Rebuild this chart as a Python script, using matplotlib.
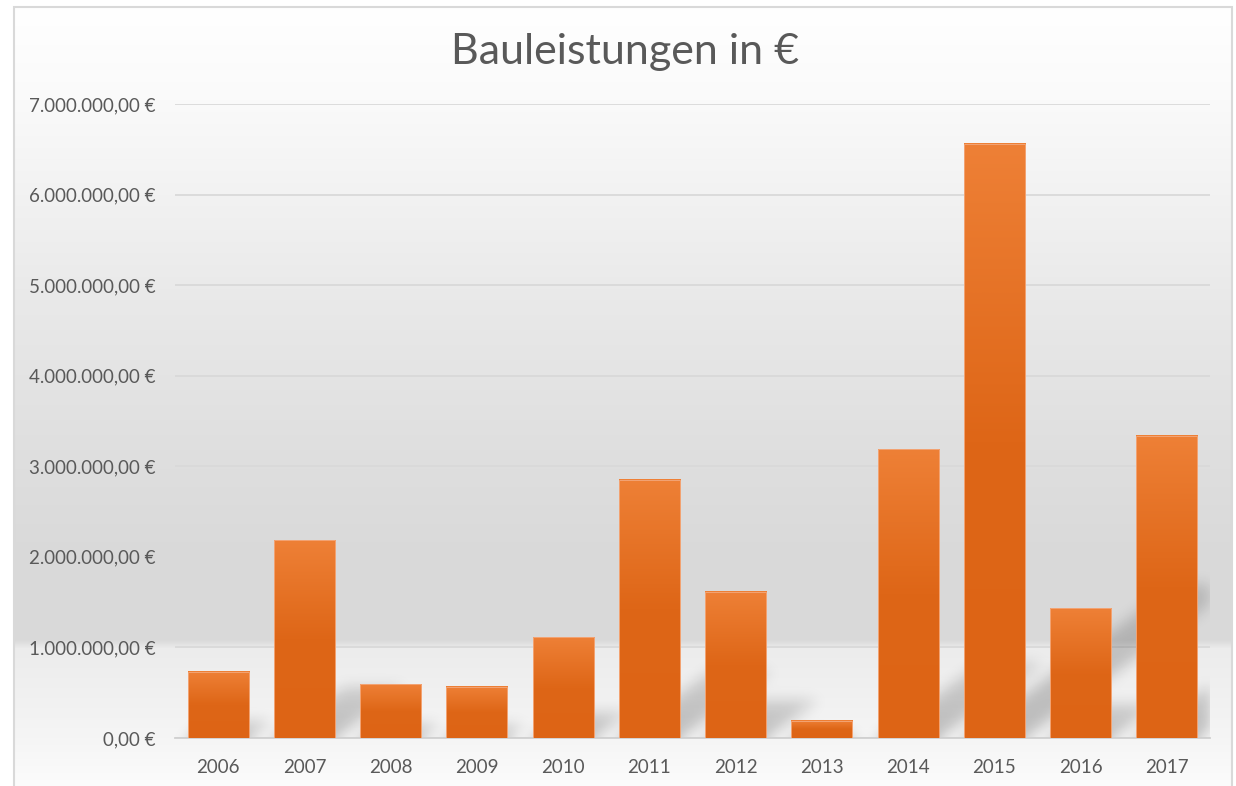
import numpy as np
import matplotlib.pyplot as plt
from matplotlib.ticker import FuncFormatter, MultipleLocator
from matplotlib.patches import Rectangle
from matplotlib.colors import LinearSegmentedColormap

# data
years = ['2006', '2007', '2008', '2009', '2010', '2011',
         '2012', '2013', '2014', '2015', '2016', '2017']
values = [730000, 2185000, 595000, 565000, 1115000, 2850000,
          1612000, 188000, 3190000, 6560000, 1435000, 3335000]

title = 'Bauleistungen in €'
text_col = '#595959'
plt.rcParams['font.family'] = ['Lato', 'DejaVu Sans']

W, H = 1236, 786
fig = plt.figure(figsize=(W / 100, H / 100), dpi=100)

# background gradient over the chart frame
fx0, fy0 = 14, 7
bg = fig.add_axes([fx0 / W, 0, (1232 - fx0) / W, 1 - fy0 / H], zorder=-5)
stops_px = [7, 100, 300, 450, 560, 640, 648, 738, 786]
stops_gray = [255, 250, 233, 223, 217, 218, 236, 245, 252]
rows = np.arange(fy0, H)
g = np.interp(rows, stops_px, stops_gray) / 255.0
bg_img = np.stack([g, g, g], axis=-1)[:, None, :].repeat(2, axis=1)
bg.imshow(bg_img, aspect='auto', extent=[0, 1, 0, 1], interpolation='bilinear')
bg.set_axis_off()
fig.patches.append(Rectangle((fx0 / W, -0.01), (1232 - fx0) / W, 1 - fy0 / H + 0.01,
                             transform=fig.transFigure, fill=False,
                             edgecolor='#d9d9d9', linewidth=1.5, zorder=10))

ax = fig.add_axes([175 / W, 1 - 738 / H, (1210 - 175) / W, (738 - 104) / H])
ax.patch.set_alpha(0)
x = np.arange(len(years))
bw = 0.71
ymax = 7000000

# blurred perspective shadows
nx, ny, pad = 1035, 634, 30
xs = -0.5 + (np.arange(nx) + 0.5) / nx * 12
ys = (np.arange(-pad, ny) + 0.5) / ny * ymax
XX, YY = np.meshgrid(xs, ys)
mask = np.zeros_like(XX)
for i, v in enumerate(values):
    hs = 0.26 * v
    shift = 0.378 * v / 1e6
    t = np.clip(YY / hs, 0, None)
    inside = (t <= 1) & (XX >= i - bw / 2 + shift * t) & (XX <= i + bw / 2 + shift * t)
    mask = np.maximum(mask, np.where(inside, 0.23 * (1 - 0.35 * t), 0))
k = np.exp(-0.5 * (np.arange(-21, 22) / 7.0) ** 2)
k /= k.sum()
mask = np.apply_along_axis(lambda r: np.convolve(r, k, mode='same'), 1, mask)
mask = np.apply_along_axis(lambda c: np.convolve(c, k, mode='same'), 0, mask)
mask = mask[pad:]
shadow = np.zeros((ny, nx, 4))
shadow[..., 3] = mask
ax.imshow(shadow, origin='lower', extent=[-0.5, 11.5, 0, ymax], aspect='auto',
          zorder=1, interpolation='bilinear')

# bars with vertical gradient
bar_cmap = LinearSegmentedColormap.from_list('o', ['#DD6415', '#DE6617', '#EE8036'])
bars = ax.bar(x, values, width=bw, color='#EE8036', zorder=2)
for b in bars:
    h = b.get_height()
    grad = np.linspace(0, 1, 200)[:, None]
    ax.imshow(grad, cmap=bar_cmap, origin='lower', aspect='auto', zorder=3,
              extent=[b.get_x(), b.get_x() + b.get_width(), 0, h],
              clip_path=b, interpolation='bilinear')
ax.bar(x, values, width=bw, facecolor='none', edgecolor='#f3a474', linewidth=0.7, zorder=4)

ax.set_xlim(-0.5, 11.5)
ax.set_ylim(0, ymax)
ax.yaxis.set_major_locator(MultipleLocator(1000000))


def de_euro(v, pos):
    s = f'{v:,.2f}'.replace(',', 'X').replace('.', ',').replace('X', '.')
    return s + ' €'


ax.yaxis.set_major_formatter(FuncFormatter(de_euro))
ax.grid(axis='y', color='#d9d9d9', linewidth=1.3, zorder=0)
ax.set_axisbelow(True)
for sp in ['top', 'right', 'left']:
    ax.spines[sp].set_visible(False)
ax.spines['bottom'].set_color('#d0d0d0')
ax.spines['bottom'].set_linewidth(1.3)
ax.set_xticks(x)
ax.set_xticklabels(years)
ax.tick_params(axis='y', length=0, pad=14, labelsize=13.5, labelcolor=text_col)
ax.tick_params(axis='x', length=0, pad=15, labelsize=13.5, labelcolor=text_col)

fig.text(625 / W, 1 - 52 / H, title, ha='center', va='center', fontsize=31,
         color=text_col)

fig.savefig('out.png', dpi=100)
